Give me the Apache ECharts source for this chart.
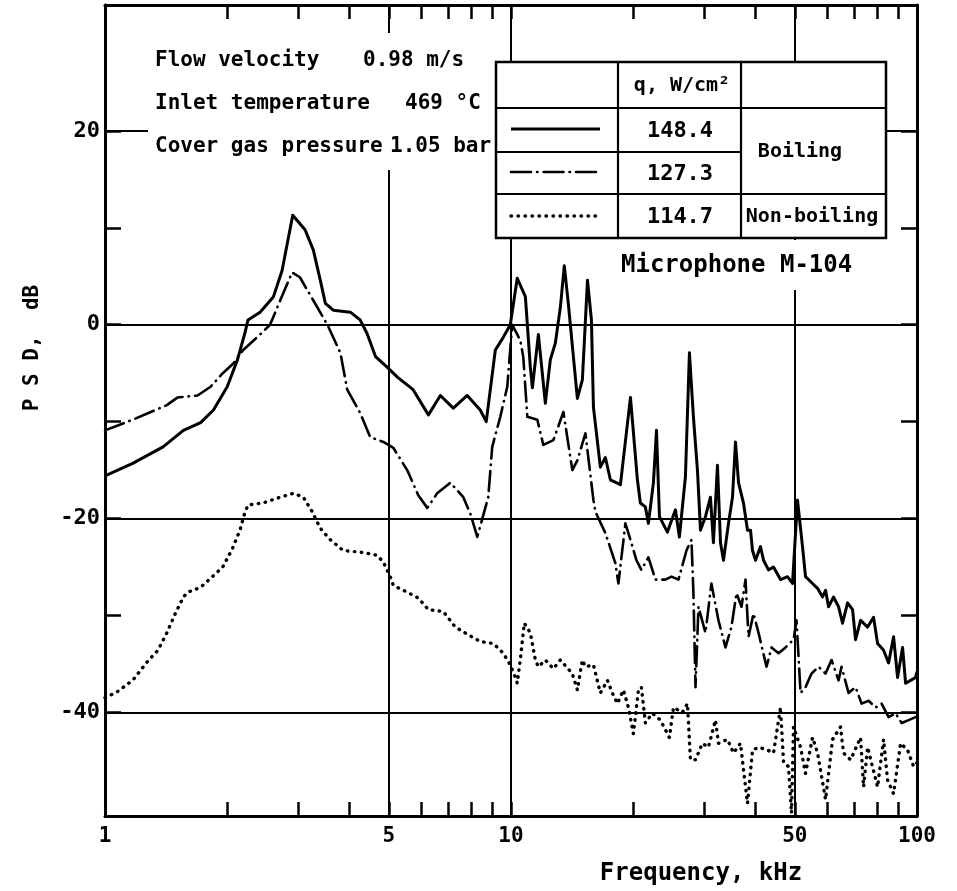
<!DOCTYPE html>
<html>

<head>
  <meta charset="utf-8">
  <title>PSD, Microphone M-104</title>
  <script src="https://cdn.jsdelivr.net/npm/echarts@6/dist/echarts.min.js"></script>
  <style>
    html, body { margin: 0; background: #fff; }
  </style>
</head>

<body>
  <div id="main" style="width: 957px;height:891px;"></div>
  <script type="text/javascript">
    // frequency in kHz, PSD in dB
    var freqBoil148 = [1.00, 1.17, 1.39, 1.56, 1.72, 1.85, 2.00, 2.12, 2.21, 2.25,
      2.41, 2.60, 2.73, 2.90, 3.11, 3.26, 3.39, 3.49, 3.65, 4.02,
      4.25, 4.42, 4.64, 4.96, 5.25, 5.74, 6.26, 6.70, 7.21, 7.80,
      8.40, 8.69, 9.15, 9.57, 9.96, 10.36, 10.85, 11.16, 11.29, 11.68,
      12.15, 12.50, 12.86, 13.23, 13.53, 13.84, 14.57, 14.99, 15.43, 15.78,
      15.96, 16.60, 17.08, 17.57, 18.60, 19.69, 20.48, 20.83, 21.43, 21.80,
      22.43, 22.82, 23.21, 24.28, 25.41, 25.99, 26.89, 27.51, 28.14, 28.79,
      29.29, 30.13, 30.99, 31.52, 32.25, 32.81, 33.37, 34.33, 35.12, 35.72,
      36.34, 37.38, 38.24, 38.90, 39.34, 40.02, 41.17, 41.88, 43.07, 44.32,
      46.11, 47.98, 49.36, 50.78, 52.24, 53.14, 55.30, 56.89, 58.53, 59.53,
      60.55, 62.29, 64.09, 65.55, 67.45, 69.39, 70.58, 72.61, 75.56, 78.17,
      79.97, 82.74, 85.11, 87.56, 89.56, 92.15, 93.74, 96.43, 99.2, 100];
    var psdBoil148 = [-15.6, -14.3, -12.6, -10.9, -10.1, -8.8, -6.4, -3.6, -0.9, 0.5,
      1.3, 2.9, 5.6, 11.3, 9.8, 7.7, 4.6, 2.2, 1.5, 1.3,
      0.5, -0.9, -3.3, -4.4, -5.4, -6.7, -9.3, -7.3, -8.6, -7.3,
      -8.8, -10.0, -2.6, -1.3, 0, 4.8, 2.9, -4.4, -6.5, -1.0,
      -8.1, -3.6, -1.9, 1.8, 6.1, 2.2, -7.6, -5.7, 4.6, 0.5,
      -8.5, -14.7, -13.7, -16.0, -16.5, -7.5, -16.0, -18.4, -18.8, -20.5,
      -16.3, -10.9, -19.8, -21.4, -19.1, -21.9, -15.7, -2.9, -9.5, -15.0,
      -21.2, -19.8, -17.8, -22.5, -14.5, -22.5, -24.3, -20.5, -17.8, -12.1,
      -16.3, -18.4, -21.2, -21.2, -23.3, -24.3, -22.9, -24.3, -25.3, -25.0,
      -26.3, -26.0, -26.7, -18.1, -22.9, -26.0, -26.7, -27.2, -28.1, -27.4,
      -29.1, -28.1, -29.1, -30.8, -28.7, -29.4, -32.5, -30.5, -31.2, -30.2,
      -32.9, -33.6, -34.9, -32.2, -36.4, -33.3, -37.0, -36.7, -36.4, -35.8];

    var freqBoil127 = [1.00, 1.17, 1.42, 1.51, 1.69, 1.82, 1.95, 2.07, 2.19, 2.41,
      2.55, 2.70, 2.89, 3.02, 3.26, 3.53, 3.80, 3.95, 4.25, 4.50,
      4.85, 5.13, 5.55, 5.91, 6.22, 6.58, 7.09, 7.63, 7.94, 8.26,
      8.79, 8.99, 9.41, 9.79, 10.07, 10.54, 10.72, 10.97, 11.61, 12.01,
      12.72, 13.46, 14.16, 14.57, 15.25, 15.96, 16.14, 17.08, 18.07, 18.39,
      19.13, 19.69, 20.36, 20.95, 21.80, 22.68, 24.01, 24.84, 25.85, 27.05,
      27.83, 28.14, 28.47, 28.96, 30.13, 31.16, 32.43, 33.75, 34.91, 35.93,
      36.96, 37.81, 38.46, 39.57, 40.71, 42.59, 43.82, 45.60, 47.45, 49.64,
      50.50, 51.66, 53.14, 54.98, 57.21, 59.53, 61.59, 64.09, 65.19, 67.83,
      70.58, 73.03, 75.99, 79.07, 81.81, 85.11, 88.58, 91.65, 95.35, 99.2];
    var psdBoil127 = [-10.9, -9.8, -8.3, -7.5, -7.3, -6.4, -5.0, -4.0, -2.6, -1.0,
      0, 2.5, 5.4, 4.9, 2.5, 0, -2.9, -6.7, -9.1, -11.6,
      -12.1, -12.7, -15.0, -17.6, -18.9, -17.4, -16.3, -17.8, -19.5, -21.9,
      -17.8, -12.6, -9.5, -6.4, 0, -1.6, -3.3, -9.5, -9.8, -12.4,
      -11.9, -9.0, -15.0, -14.0, -11.2, -18.1, -19.3, -21.5, -24.6, -26.7,
      -20.5, -22.2, -24.3, -25.3, -24.0, -26.3, -26.3, -26.0, -26.3, -23.3,
      -22.2, -27.7, -37.4, -29.1, -31.8, -26.7, -30.5, -33.3, -31.2, -27.7,
      -29.1, -26.3, -32.2, -29.8, -31.8, -35.3, -33.3, -33.9, -33.3, -32.5,
      -30.5, -38.0, -37.4, -36.0, -35.3, -36.0, -34.6, -36.7, -35.3, -38.0,
      -37.4, -39.1, -38.8, -39.5, -39.1, -40.5, -40.1, -41.1, -40.8, -40.5];

    var freqNonBoil = [1.00, 1.07, 1.17, 1.27, 1.35, 1.42, 1.49, 1.56, 1.60, 1.72,
      1.85, 1.95, 2.06, 2.15, 2.21, 2.25, 2.45, 2.70, 2.91, 3.08,
      3.24, 3.39, 3.59, 3.86, 4.32, 4.68, 4.85, 5.04, 5.13, 5.55,
      5.91, 6.26, 6.81, 7.29, 7.85, 8.40, 9.05, 9.57, 9.96, 10.25,
      10.36, 10.54, 10.78, 11.16, 11.48, 11.68, 12.15, 12.72, 13.23, 14.16,
      14.57, 14.99, 15.25, 15.96, 16.60, 17.28, 17.77, 18.28, 18.92, 19.46,
      20.02, 20.60, 20.95, 21.43, 22.30, 23.34, 24.56, 25.13, 26.44, 27.21,
      27.67, 28.47, 29.61, 30.64, 31.89, 32.43, 34.14, 35.32, 36.74, 38.24,
      39.34, 40.71, 42.83, 44.32, 46.11, 46.92, 48.25, 49.08, 49.64, 51.66,
      53.14, 55.30, 56.89, 59.53, 61.94, 64.81, 65.93, 68.61, 72.61, 73.86,
      75.56, 79.97, 82.74, 84.64, 87.56, 91.12, 94.82, 98.1, 100];
    var psdNonBoil = [-38.5, -37.9, -36.7, -34.8, -33.6, -31.8, -29.8, -28.1, -27.6, -27.1,
      -25.9, -25.0, -23.1, -21.2, -19.4, -18.6, -18.4, -17.8, -17.4, -17.8,
      -19.3, -21.0, -22.2, -23.3, -23.5, -23.8, -24.5, -26.0, -26.9, -27.6,
      -28.2, -29.4, -29.6, -31.2, -32.0, -32.7, -32.9, -33.9, -35.1, -36.4,
      -37.0, -34.6, -30.8, -31.8, -34.6, -35.3, -34.6, -35.5, -34.6, -36.0,
      -37.7, -34.6, -35.3, -35.1, -38.0, -36.7, -38.0, -39.1, -37.7, -39.5,
      -42.2, -37.7, -37.4, -41.1, -40.1, -40.8, -42.6, -39.5, -40.0, -39.1,
      -44.9, -44.9, -43.2, -43.6, -40.8, -43.2, -42.8, -44.2, -43.2, -49.4,
      -43.9, -43.6, -43.9, -44.2, -39.5, -45.2, -45.6, -50.4, -41.5, -43.6,
      -46.3, -42.6, -44.2, -49.0, -42.8, -41.5, -44.2, -44.9, -42.6, -47.7,
      -43.6, -47.7, -42.8, -47.0, -48.4, -43.2, -43.9, -45.6, -45.2];

    // axis ticks, labels and grid lines
    var freqTicks = [1, 2, 3, 4, 5, 6, 7, 8, 9, 10, 20, 30, 40, 50, 60, 70, 80, 90, 100];
    var freqLabels = [1, 5, 10, 50, 100];
    var psdTicks = [20, 10, 0, -10, -20, -30, -40];
    var psdLabels = [20, 0, -20, -40];
    var gridFreq = [5, 10, 50];
    var gridPsd = [20, 0, -20, -40];

    // legend table
    var heatFlux = ['148.4', '127.3', '114.7'];

    function pairs(xs, ys) {
      return xs.map(function (x, i) { return [x, ys[i]]; });
    }

    var FONT = 'DejaVu Sans Mono';
    var INK = '#000';

    var myChart = echarts.init(document.getElementById('main'));

    var tickStyle = { color: INK, width: 2.5 };

    function xAxisDef(pos, withLabels) {
      return {
        type: 'log',
        logBase: 10,
        min: 1,
        max: 100,
        position: pos,
        axisLine: { show: true, onZero: false, lineStyle: { color: INK, width: 3 } },
        axisTick: { show: true, inside: true, length: 14, lineStyle: tickStyle, customValues: freqTicks },
        minorTick: { show: false },
        splitLine: { show: false },
        axisLabel: {
          show: withLabels,
          customValues: freqLabels,
          margin: 10,
          color: INK,
          fontFamily: FONT,
          fontWeight: 'bold',
          fontSize: 21,
          formatter: function (v) { return String(v); }
        }
      };
    }

    function yAxisDef(pos, withLabels) {
      return {
        type: 'value',
        min: -50.7,
        max: 33,
        position: pos,
        axisLine: { show: true, onZero: false, lineStyle: { color: INK, width: 3 } },
        axisTick: { show: true, inside: true, length: 16, lineStyle: tickStyle, customValues: psdTicks },
        splitLine: { show: false },
        axisLabel: {
          show: withLabels,
          customValues: psdLabels,
          margin: 5,
          color: INK,
          fontFamily: FONT,
          fontWeight: 'bold',
          fontSize: 22,
          formatter: function (v) { return String(v); }
        }
      };
    }

    var gridLines = gridFreq.map(function (f) { return { xAxis: f }; })
      .concat(gridPsd.map(function (p) { return { yAxis: p }; }));

    var txt = function (text, x, y, size, align, weight) {
      return {
        type: 'text', z: 101, x: x, y: y,
        style: {
          text: text, fill: INK, font: (weight || 'bold') + ' ' + size + 'px "' + FONT + '"',
          align: align || 'left', verticalAlign: 'middle'
        }
      };
    };
    var seg = function (x1, y1, x2, y2, style) {
      return {
        type: 'line', z: 101,
        shape: { x1: x1, y1: y1, x2: x2, y2: y2 },
        style: Object.assign({ stroke: INK, lineWidth: 2.2 }, style || {})
      };
    };

    var lineTypes = [
      { lineWidth: 3 },
      { lineWidth: 2.6, lineDash: [20, 6, 0.5, 6], lineCap: 'round' },
      { lineWidth: 3.4, lineDash: [0.5, 6.5], lineCap: 'round' }
    ];

    var graphics = [
      // white panels behind the annotations (they interrupt the grid lines)
      { type: 'rect', z: 100, shape: { x: 148, y: 33, width: 348, height: 137 }, style: { fill: '#fff' } },
      { type: 'rect', z: 100, shape: { x: 612, y: 240, width: 252, height: 50 }, style: { fill: '#fff' } },
      { type: 'rect', z: 100, shape: { x: 496, y: 62, width: 390, height: 176 }, style: { fill: '#fff', stroke: INK, lineWidth: 2.5 } },
      seg(496, 108, 886, 108), seg(496, 152, 741, 152), seg(496, 194, 886, 194),
      seg(618, 62, 618, 238), seg(741, 62, 741, 238),
      txt('q, W/cm\u00b2', 682, 86, 20, 'center'),
      txt(heatFlux[0], 680, 131, 22, 'center'),
      txt(heatFlux[1], 680, 174, 22, 'center'),
      txt(heatFlux[2], 680, 217, 22, 'center'),
      txt('Boiling', 800, 152, 20, 'center'),
      txt('Non-boiling', 812, 217, 20, 'center'),
      seg(511, 129, 600, 129, lineTypes[0]),
      seg(511, 172, 600, 172, lineTypes[1]),
      seg(511, 216, 600, 216, lineTypes[2]),
      // conditions
      txt('Flow velocity', 155, 61, 21),
      txt('0.98 m/s', 363, 61, 21),
      txt('Inlet temperature', 155, 104, 21),
      txt('469 \u00b0C', 405, 104, 21),
      txt('Cover gas pressure', 155, 147, 21),
      txt('1.05 bar', 390, 147, 21),
      txt('Microphone M-104', 621, 266, 24),
      // axis titles
      txt('Frequency, kHz', 701, 874, 24, 'center'),
      {
        type: 'text', z: 101, x: 33, y: 348, rotation: Math.PI / 2,
        style: { text: 'P S D,  dB', fill: INK, font: 'bold 21px "' + FONT + '"', align: 'center', verticalAlign: 'middle' }
      }
    ];

    function lineSeries(name, xs, ys, style, extra) {
      var s = {
        name: name,
        type: 'line',
        data: pairs(xs, ys),
        showSymbol: false,
        symbol: 'none',
        smooth: false,
        silent: true,
        animation: false,
        lineStyle: {
          color: INK,
          width: style.lineWidth,
          type: style.lineDash || 'solid',
          cap: style.lineCap || 'butt',
          join: 'round'
        }
      };
      return Object.assign(s, extra || {});
    }

    var option = {
      backgroundColor: '#fff',
      animation: false,
      grid: { left: 105, right: 40, top: 5, bottom: 75, containLabel: false, outerBoundsMode: 'none' },
      xAxis: [xAxisDef('bottom', true), xAxisDef('top', false)],
      yAxis: [yAxisDef('left', true), yAxisDef('right', false)],
      graphic: graphics,
      series: [
        lineSeries('148.4', freqBoil148, psdBoil148, lineTypes[0], {
          markLine: {
            silent: true,
            symbol: ['none', 'none'],
            label: { show: false },
            lineStyle: { color: INK, width: 2, type: 'solid' },
            animation: false,
            data: gridLines
          }
        }),
        lineSeries('127.3', freqBoil127, psdBoil127, lineTypes[1]),
        lineSeries('114.7', freqNonBoil, psdNonBoil, lineTypes[2])
      ]
    };

    myChart.setOption(option);
  </script>
</body>

</html>
